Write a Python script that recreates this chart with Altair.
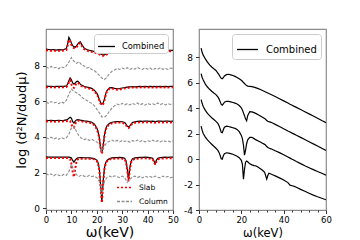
import altair as alt
import pandas as pd

FONT = "DejaVu Sans"

# ---------------- left panel data ----------------
XB = [0, 1, 2, 3, 4, 5, 6, 7, 8, 8.5,
      9, 9.5, 10, 10.5, 11, 11.5, 12, 12.5, 13, 13.5,
      14, 15, 16, 17, 18, 19, 20, 20.5, 21, 21.5,
      22, 22.5, 23, 23.5, 24, 25, 26, 27, 28, 29,
      30, 31, 31.5, 32, 32.5, 33, 33.5, 34, 35, 36,
      37, 38, 39, 40, 41, 42, 42.5, 43, 43.5, 44,
      45, 46, 47, 48, 49, 50]

C1 = [8.92, 8.90, 8.88, 8.90, 8.87, 8.89, 8.88, 8.90, 8.95, 9.20,
      9.58, 9.45, 9.25, 9.12, 9.06, 9.03, 9.10, 9.20, 9.30, 9.33,
      9.20, 8.98, 8.90, 8.86, 8.82, 8.78, 8.74, 8.72, 8.68, 8.65,
      8.62, 8.60, 8.60, 8.63, 8.68, 8.76, 8.80, 8.83, 8.84, 8.83,
      8.85, 8.84, 8.83, 8.83, 8.82, 8.83, 8.84, 8.85, 8.84, 8.85,
      8.84, 8.86, 8.85, 8.84, 8.85, 8.84, 8.84, 8.83, 8.84, 8.85,
      8.84, 8.85, 8.84, 8.86, 8.85, 8.85]
S1 = [8.86, 8.84, 8.83, 8.84, 8.82, 8.83, 8.83, 8.84, 8.88, 9.10,
      9.45, 9.38, 9.15, 9.02, 8.98, 8.97, 9.03, 9.12, 9.22, 9.25,
      9.12, 8.92, 8.85, 8.80, 8.77, 8.73, 8.69, 8.67, 8.63, 8.60,
      8.57, 8.55, 8.55, 8.58, 8.63, 8.71, 8.75, 8.78, 8.79, 8.79,
      8.80, 8.79, 8.78, 8.77, 8.77, 8.78, 8.79, 8.80, 8.79, 8.80,
      8.79, 8.80, 8.80, 8.79, 8.80, 8.79, 8.79, 8.78, 8.79, 8.80,
      8.79, 8.80, 8.79, 8.80, 8.80, 8.80]
C3 = [6.85, 6.83, 6.84, 6.82, 6.84, 6.83, 6.84, 6.83, 6.86, 6.95,
      7.15, 7.30, 7.20, 7.02, 6.95, 7.02, 7.10, 7.12, 7.05, 6.96,
      6.90, 6.84, 6.80, 6.76, 6.72, 6.62, 6.45, 6.30, 6.10, 5.92,
      5.84, 5.90, 6.10, 6.40, 6.60, 6.75, 6.76, 6.72, 6.70, 6.71,
      6.74, 6.77, 6.78, 6.79, 6.80, 6.80, 6.81, 6.82, 6.81, 6.82,
      6.83, 6.82, 6.83, 6.82, 6.83, 6.82, 6.83, 6.82, 6.83, 6.82,
      6.83, 6.82, 6.83, 6.82, 6.83, 6.83]
S3 = [6.79, 6.78, 6.78, 6.77, 6.78, 6.78, 6.79, 6.78, 6.80, 6.88,
      7.05, 7.18, 6.95, 6.78, 6.75, 6.88, 7.00, 7.04, 6.98, 6.90,
      6.84, 6.79, 6.75, 6.71, 6.67, 6.57, 6.40, 6.25, 6.05, 5.86,
      5.78, 5.84, 6.04, 6.34, 6.55, 6.70, 6.71, 6.67, 6.65, 6.66,
      6.69, 6.72, 6.73, 6.74, 6.75, 6.75, 6.76, 6.77, 6.76, 6.77,
      6.78, 6.77, 6.78, 6.77, 6.78, 6.77, 6.78, 6.77, 6.78, 6.77,
      6.78, 6.77, 6.78, 6.77, 6.78, 6.78]
C5 = [4.93, 4.92, 4.93, 4.91, 4.92, 4.93, 4.92, 4.93, 4.95, 4.98,
      5.05, 5.10, 5.05, 4.85, 4.78, 4.88, 4.95, 4.97, 4.96, 4.94,
      4.93, 4.90, 4.88, 4.86, 4.82, 4.72, 4.50, 4.30, 3.95, 3.40,
      3.10, 3.50, 4.10, 4.45, 4.62, 4.76, 4.82, 4.85, 4.86, 4.86,
      4.85, 4.80, 4.72, 4.60, 4.55, 4.62, 4.72, 4.80, 4.85, 4.87,
      4.88, 4.87, 4.88, 4.88, 4.87, 4.88, 4.87, 4.86, 4.87, 4.88,
      4.88, 4.87, 4.88, 4.88, 4.87, 4.88]
S5 = [4.87, 4.86, 4.87, 4.85, 4.86, 4.87, 4.86, 4.87, 4.88, 4.90,
      4.92, 4.88, 4.70, 4.55, 4.52, 4.72, 4.86, 4.90, 4.90, 4.88,
      4.87, 4.84, 4.82, 4.80, 4.76, 4.66, 4.44, 4.24, 3.88, 3.35,
      3.05, 3.45, 4.05, 4.40, 4.57, 4.70, 4.76, 4.79, 4.80, 4.80,
      4.79, 4.74, 4.66, 4.54, 4.50, 4.56, 4.66, 4.74, 4.79, 4.81,
      4.82, 4.81, 4.82, 4.82, 4.81, 4.82, 4.81, 4.80, 4.81, 4.82,
      4.82, 4.81, 4.82, 4.82, 4.81, 4.82]
C7 = [2.88, 2.86, 2.87, 2.86, 2.87, 2.86, 2.87, 2.86, 2.87, 2.86,
      2.86, 2.85, 2.82, 2.68, 2.58, 2.70, 2.78, 2.82, 2.83, 2.84,
      2.84, 2.83, 2.83, 2.82, 2.81, 2.79, 2.70, 2.55, 2.20, 1.30,
      0.38, 1.50, 2.25, 2.55, 2.68, 2.78, 2.82, 2.84, 2.84, 2.85,
      2.84, 2.80, 2.65, 2.20, 1.60, 2.25, 2.62, 2.76, 2.82, 2.84,
      2.85, 2.85, 2.86, 2.85, 2.84, 2.80, 2.65, 2.50, 2.70, 2.80,
      2.84, 2.85, 2.86, 2.85, 2.86, 2.86]
S7 = [2.82, 2.81, 2.82, 2.81, 2.82, 2.81, 2.82, 2.81, 2.82, 2.81,
      2.80, 2.75, 2.50, 2.05, 1.75, 2.20, 2.62, 2.74, 2.77, 2.78,
      2.78, 2.78, 2.77, 2.77, 2.76, 2.74, 2.64, 2.48, 2.12, 1.20,
      0.30, 1.40, 2.18, 2.50, 2.63, 2.73, 2.77, 2.78, 2.79, 2.79,
      2.78, 2.74, 2.58, 2.12, 1.52, 2.18, 2.56, 2.70, 2.77, 2.78,
      2.79, 2.80, 2.80, 2.79, 2.78, 2.74, 2.60, 2.44, 2.64, 2.74,
      2.78, 2.79, 2.80, 2.80, 2.80, 2.80]

XG = list(range(0, 51))
G2 = [7.92, 7.85, 7.95, 7.86, 7.90, 7.82, 7.93, 7.88, 7.98, 8.20,
      8.45, 8.25, 8.12, 8.22, 8.05, 7.98, 7.86, 7.90, 7.78, 7.72,
      7.60, 7.45, 7.30, 7.22, 7.35, 7.55, 7.68, 7.75, 7.84, 7.78,
      7.86, 7.80, 7.88, 7.78, 7.85, 7.80, 7.90, 7.82, 7.78, 7.87,
      7.80, 7.86, 7.76, 7.84, 7.80, 7.88, 7.79, 7.84, 7.78, 7.86,
      7.82]
G4 = [5.95, 5.88, 5.98, 5.90, 5.94, 5.86, 5.96, 5.90, 6.05, 6.40,
      6.68, 6.55, 6.48, 6.38, 6.25, 6.12, 6.05, 5.95, 5.88, 5.75,
      5.55, 5.35, 5.12, 5.10, 5.22, 5.45, 5.62, 5.75, 5.84, 5.78,
      5.88, 5.80, 5.86, 5.79, 5.88, 5.82, 5.90, 5.80, 5.86, 5.78,
      5.88, 5.82, 5.86, 5.80, 5.90, 5.81, 5.87, 5.79, 5.86, 5.82,
      5.85]
G6 = [3.95, 3.90, 3.98, 3.88, 3.94, 3.86, 3.96, 3.90, 3.95, 4.15,
      4.50, 4.60, 4.30, 4.05, 3.92, 3.85, 3.90, 3.80, 3.86, 3.78,
      3.72, 3.55, 3.20, 3.50, 3.68, 3.75, 3.82, 3.74, 3.80, 3.72,
      3.80, 3.74, 3.78, 3.70, 3.79, 3.74, 3.82, 3.73, 3.80, 3.72,
      3.78, 3.75, 3.82, 3.73, 3.79, 3.72, 3.80, 3.74, 3.78, 3.72,
      3.77]
G8 = [1.95, 1.86, 1.93, 1.82, 1.90, 1.85, 1.80, 1.90, 1.84, 2.05,
      2.45, 2.15, 1.88, 1.78, 1.86, 1.80, 1.76, 1.84, 1.78, 1.80,
      1.72, 1.50, 0.75, 1.50, 1.72, 1.80, 1.74, 1.82, 1.76, 1.72,
      1.80, 1.72, 1.45, 1.60, 1.75, 1.80, 1.72, 1.78, 1.70, 1.80,
      1.74, 1.78, 1.72, 1.80, 1.74, 1.70, 1.80, 1.74, 1.78, 1.70,
      1.76]

# ---------------- right panel data ----------------
XR = [1, 1.5, 2, 3, 4, 5, 6, 7, 8, 9,
      9.5, 10, 10.5, 11, 11.5, 12, 13, 14, 15, 16,
      17, 18, 19, 20, 20.5, 21, 21.5, 22, 22.5, 23,
      24, 25, 26, 27, 28, 29, 30, 31, 31.5, 32,
      32.5, 33, 34, 35, 36, 38, 40, 42, 43, 44,
      45, 46, 48, 50, 52, 54, 56, 58, 60]
RA = [8.70, 8.35, 8.15, 7.85, 7.60, 7.38, 7.22, 7.08, 6.95, 6.72,
      6.60, 6.45, 6.33, 6.30, 6.38, 6.52, 6.62, 6.65, 6.60, 6.55,
      6.48, 6.40, 6.30, 6.18, 6.10, 6.00, 5.92, 5.84, 5.76, 5.72,
      5.70, 5.68, 5.64, 5.58, 5.52, 5.45, 5.38, 5.30, 5.26, 5.22,
      5.18, 5.14, 5.06, 4.98, 4.90, 4.73, 4.56, 4.39, 4.30, 4.22,
      4.13, 4.05, 3.88, 3.71, 3.54, 3.37, 3.20, 3.02, 2.85]
RB = [6.70, 6.40, 6.20, 5.88, 5.65, 5.47, 5.32, 5.18, 5.05, 4.85,
      4.70, 4.50, 4.28, 4.22, 4.32, 4.46, 4.53, 4.52, 4.48, 4.43,
      4.38, 4.32, 4.20, 4.02, 3.85, 3.62, 3.40, 3.15, 3.00, 3.40,
      3.72, 3.70, 3.64, 3.56, 3.47, 3.38, 3.28, 3.18, 3.12, 3.02,
      2.96, 2.93, 2.88, 2.80, 2.72, 2.55, 2.38, 2.20, 2.12, 2.03,
      1.95, 1.86, 1.70, 1.53, 1.36, 1.19, 1.02, 0.85, 0.68]
RC = [4.66, 4.35, 4.12, 3.82, 3.58, 3.40, 3.24, 3.10, 2.95, 2.77,
      2.60, 2.35, 2.10, 2.06, 2.30, 2.50, 2.58, 2.55, 2.50, 2.45,
      2.40, 2.32, 2.15, 1.85, 1.60, 1.10, 0.30, 0.70, 1.20, 1.50,
      1.70, 1.70, 1.60, 1.50, 1.42, 1.33, 1.24, 1.15, 1.08, 0.98,
      0.90, 0.86, 0.80, 0.73, 0.65, 0.50, 0.33, 0.16, 0.07, -0.02,
      -0.10, -0.19, -0.36, -0.53, -0.68, -0.83, -0.98, -1.12, -1.26]
RD = [2.58, 2.25, 2.00, 1.72, 1.50, 1.32, 1.16, 1.00, 0.85, 0.66,
      0.50, 0.28, 0.02, -0.02, 0.25, 0.42, 0.49, 0.46, 0.42, 0.37,
      0.30, 0.22, 0.10, -0.10, -0.40, -1.58, -0.80, -0.25, -0.16, -0.22,
      -0.38, -0.46, -0.52, -0.55, -0.65, -0.76, -0.88, -1.05, -1.30, -1.58,
      -1.30, -1.12, -1.18, -1.25, -1.32, -1.48, -1.64, -1.85, -2.05, -2.10,
      -2.15, -2.22, -2.38, -2.53, -2.68, -2.83, -2.96, -3.08, -3.20]


def long(xs, series, label):
    rows = []
    for name, ys in series.items():
        assert len(xs) == len(ys), (name, len(xs), len(ys))
        for x, y in zip(xs, ys):
            rows.append({"x": x, "y": y, "curve": name, "label": label})
    return rows


comb_df = pd.DataFrame(long(XB, {"c1": C1, "c3": C3, "c5": C5, "c7": C7}, "Combined"))
slab_df = pd.DataFrame(long(XB, {"s1": S1, "s3": S3, "s5": S5, "s7": S7}, "Slab"))
col_df = pd.DataFrame(long(XG, {"g2": G2, "g4": G4, "g6": G6, "g8": G8}, "Column"))
right_df = pd.DataFrame(long(XR, {"a": RA, "b": RB, "c": RC, "d": RD}, "Combined"))

W, H = 127, 181

major_tick = lambda step: {"condition": {"test": f"datum.value % {step} === 0", "value": 3.5}, "value": 2}

xl = alt.X("x:Q", scale=alt.Scale(domain=[0, 50], nice=False, zero=False),
           axis=alt.Axis(values=list(range(0, 51, 2)),
                         labelExpr="datum.value % 10 === 0 ? datum.label : ''",
                         tickSize=major_tick(10), labelFlush=False,
                         title="ω(keV)", titleFontSize=14, labelFontSize=8.5,
                         labelPadding=2, titlePadding=1))
yl = alt.Y("y:Q", scale=alt.Scale(domain=[-0.1, 10.05], nice=False, zero=False),
           axis=alt.Axis(values=[0, 2, 4, 6, 8], tickSize=3.5,
                         title="log (d²N/dωdμ)", titleFontSize=13,
                         labelFontSize=9, labelPadding=3, titlePadding=5))

leg_comb_l = alt.Legend(title=None, orient="top-right", offset=5, padding=3,
                        strokeColor="#cccccc", fillColor="white", cornerRadius=3,
                        symbolType="stroke", symbolSize=289, symbolStrokeWidth=1.3,
                        labelFontSize=8.3, labelFont=FONT, labelOffset=6)
leg_sc = alt.Legend(title=None, orient="bottom-right", offset=3, padding=2,
                    symbolType="stroke", symbolSize=225, symbolStrokeWidth=1.6,
                    labelFontSize=7.5, labelFont=FONT, labelOffset=6, rowPadding=2)

sc_color = alt.Color("label:N", scale=alt.Scale(domain=["Slab", "Column"], range=["#ff0000", "#8c8c8c"]),
                     legend=leg_sc)
sc_dash = alt.StrokeDash("label:N", scale=alt.Scale(domain=["Slab", "Column"], range=[[2, 2], [3, 1.5]]),
                         legend=leg_sc)

left_comb = alt.Chart(comb_df).mark_line(strokeWidth=1.2, clip=True).encode(
    x=xl, y=yl, detail="curve:N",
    color=alt.Color("label:N", scale=alt.Scale(domain=["Combined"], range=["black"]), legend=leg_comb_l),
)
left_col = alt.Chart(col_df).mark_line(strokeWidth=1.1, clip=True).encode(
    x=xl, y=yl, detail="curve:N", color=sc_color, strokeDash=sc_dash)
left_slab = alt.Chart(slab_df).mark_line(strokeWidth=2, clip=True).encode(
    x=xl, y=yl, detail="curve:N", color=sc_color, strokeDash=sc_dash)

left = alt.layer(left_comb, alt.layer(left_slab, left_col)).resolve_scale(
    color="independent", strokeDash="independent").properties(width=W, height=H)

xr = alt.X("x:Q", scale=alt.Scale(domain=[0, 60], nice=False, zero=False),
           axis=alt.Axis(values=list(range(0, 61, 4)),
                         labelExpr="datum.value % 20 === 0 ? datum.label : ''",
                         tickSize=major_tick(20), labelFlush=False,
                         title="ω(keV)", titleFontSize=11.5, labelFontSize=8.5,
                         labelPadding=2, titlePadding=3))
yr = alt.Y("y:Q", scale=alt.Scale(domain=[-4, 10.2], nice=False, zero=False),
           axis=alt.Axis(values=[-4, -2, 0, 2, 4, 6, 8], tickSize=3.5, title=None,
                         labelExpr="datum.value < 0 ? '-' + (-datum.value) : '' + datum.value",
                         labelFontSize=9, labelPadding=3))
leg_comb_r = alt.Legend(title=None, orient="top-right", offset=5, padding=4,
                        strokeColor="#cccccc", fillColor="white", cornerRadius=3,
                        symbolType="stroke", symbolSize=441, symbolStrokeWidth=1.3,
                        labelFontSize=10, labelFont=FONT, labelOffset=7)

right = alt.Chart(right_df).mark_line(strokeWidth=1.2, clip=True).encode(
    x=xr, y=yr, detail="curve:N",
    color=alt.Color("label:N", scale=alt.Scale(domain=["Combined"], range=["black"]), legend=leg_comb_r),
).properties(width=W, height=H)

chart = alt.hconcat(left, right, spacing=2).resolve_scale(
    color="independent", strokeDash="independent"
).properties(
    padding={"left": 7, "top": 20, "right": 2, "bottom": 2}
).configure(font=FONT).configure_view(
    stroke="#8c8c8c", strokeWidth=1.2
).configure_axis(
    labelFont=FONT, titleFont=FONT, grid=False, domain=False,
    tickColor="#333333", labelColor="black", titleColor="black", titleFontWeight="normal"
)

chart.save("out.html", embed_options={"renderer": "svg", "actions": False})
